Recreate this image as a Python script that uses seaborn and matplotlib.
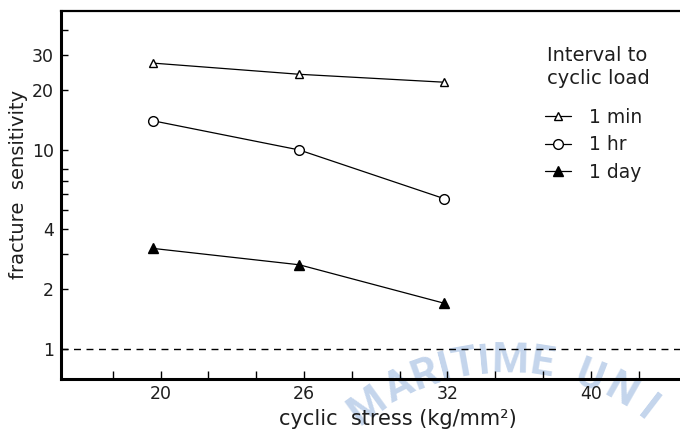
import numpy as np
import pandas as pd
import matplotlib
matplotlib.use("Agg")
import matplotlib.pyplot as plt
import seaborn as sns

# ---- data -------------------------------------------------------------
stress = [19.7, 25.8, 31.85]                 # cyclic stress, kg/mm^2
sens_1min = [27.3, 24.0, 21.9]               # fracture sensitivity
sens_1hr = [14.0, 10.0, 5.7]
sens_1day = [3.2, 2.65, 1.7]
intervals = ["1 min", "1 hr", "1 day"]

xtick_pos = [20, 26, 32, 38]
xtick_labels = ["20", "26", "32", "40"]
ytick_vals = [1, 2, 4, 10, 20, 30]
ytick_labels = ["1", "2", "4", "10", "20", "30"]
yminor_vals = [3, 5, 6, 7, 8, 40]

df = pd.DataFrame({
    "stress": stress * 3,
    "sensitivity": sens_1min + sens_1hr + sens_1day,
    "interval": [i for i in intervals for _ in stress],
})

# ---- style ------------------------------------------------------------
sns.set_theme(style="white")
plt.rcParams["font.family"] = ["DejaVu Sans"]
ink = "#1e1e1e"

W, H = 680, 437
fig = plt.figure(figsize=(W / 100, H / 100), dpi=100)
fig.patch.set_facecolor("white")
ax = fig.add_axes([61 / W, 1 - 379 / H, 1 - 61 / W, (379 - 11) / H])
ax.set_facecolor("none")

# faint seal lettering along an arc behind the lower axis
seal_color = "#c4d5ec"
arc_cx, arc_cy, arc_r = 505, 596, 235
letters = ["M", "A", "R", "I", "T", "I", "M", "E", "U", "N", "I"]
letter_x = [367, 399, 425, 445, 464, 484, 510, 542, 590, 621, 648]
for ch, lx in zip(letters, letter_x):
    a = np.degrees(np.arcsin((lx - arc_cx) / arc_r))
    ly = arc_cy - arc_r * np.cos(np.radians(a))
    fig.text(lx / W, 1 - ly / H, ch, color=seal_color, fontsize=30,
             fontweight="bold", rotation=-a, ha="center", va="center",
             rotation_mode="anchor", zorder=-5, family=["Roboto", "DejaVu Sans"])

# ---- series ---------------------------------------------------------
marker_opts = {
    "1 min": dict(marker="^", markersize=6, markerfacecolor="white"),
    "1 hr": dict(marker="o", markersize=7, markerfacecolor="white"),
    "1 day": dict(marker="^", markersize=7, markerfacecolor="black"),
}
for name in intervals:
    sub = df[df["interval"] == name]
    sns.lineplot(data=sub, x="stress", y="sensitivity", ax=ax, color="black",
                 linewidth=0.9, markeredgecolor="black", markeredgewidth=1.0,
                 label=name, **marker_opts[name])

ax.axhline(1, color="black", linewidth=1.0, linestyle=(0, (5, 4)), zorder=1)

# ---- axes -------------------------------------------------------------
ax.set_yscale("log")
ax.set_xlim(15.83, 41.73)
ax.set_ylim(0.707, 49.9)

ax.set_xticks(xtick_pos)
ax.set_xticklabels(xtick_labels, fontsize=12.5)
ax.set_xticks([v for v in range(18, 41, 2) if v not in xtick_pos], minor=True)
ax.set_yticks(ytick_vals)
ax.set_yticklabels(ytick_labels, fontsize=12.5)
ax.set_yticks(yminor_vals, minor=True)
ax.yaxis.set_minor_formatter(matplotlib.ticker.NullFormatter())

ax.tick_params(axis="x", which="both", direction="in", length=6, width=1.0,
               color="black", pad=4, labelcolor=ink, bottom=True)
ax.tick_params(axis="y", which="both", direction="in", length=5, width=1.0,
               color="black", pad=5, labelcolor=ink, left=True)

for side in ["left", "bottom"]:
    ax.spines[side].set_color("black")
    ax.spines[side].set_linewidth(2.2)
ax.spines["top"].set_color("black")
ax.spines["top"].set_linewidth(1.6)
ax.spines["right"].set_visible(False)
ax.grid(False)

ax.set_xlabel("cyclic  stress (kg/mm²)", fontsize=15, color=ink)
ax.xaxis.set_label_coords((398 - 61) / 619, -0.082)
ax.set_ylabel("fracture  sensitivity", fontsize=14, color=ink)
ax.yaxis.set_label_coords(-0.054, 0.53)

# legend heading and entries
fig.text(547 / W, 1 - 46 / H, "Interval to\ncyclic load", fontsize=14,
         color=ink, ha="left", va="top", linespacing=1.3)
leg = ax.legend(frameon=False, fontsize=13.5, loc="upper left",
                bbox_to_anchor=(545 / W, 1 - 108 / H),
                bbox_transform=fig.transFigure, borderpad=0, borderaxespad=0,
                handlelength=1.4, handletextpad=0.95, labelspacing=0.45)
for t in leg.get_texts():
    t.set_color(ink)

fig.savefig("out.png", dpi=100, facecolor="white")
